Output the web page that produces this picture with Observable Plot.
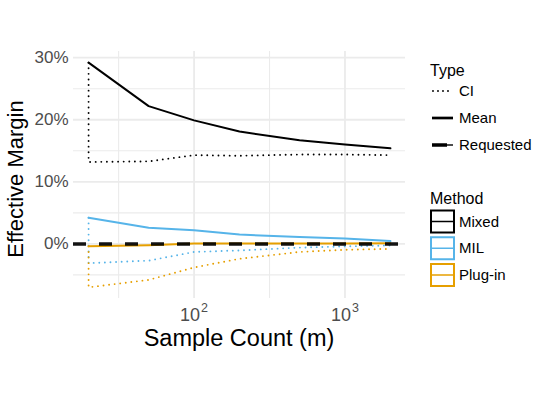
<!DOCTYPE html>
<html><head><meta charset="utf-8">
<script src="https://cdn.jsdelivr.net/npm/d3@7"></script>
<script src="https://cdn.jsdelivr.net/npm/@observablehq/plot@0.6"></script>
<style>body{margin:0;background:#fff;} svg{display:block}</style>
</head><body><div id="chart"></div>
<script>
// ---- data ----
const sampleCount = [20, 50, 100, 200, 500, 1000, 2000];
const mixedMean = [29.2, 22.2, 19.9, 18.1, 16.7, 16.0, 15.4];
const mixedCI   = [13.2, 13.3, 14.3, 14.2, 14.4, 14.4, 14.3];
const milMean   = [4.2, 2.6, 2.2, 1.5, 1.1, 0.85, 0.45];
const milCI     = [-3.1, -2.7, -1.3, -1.05, -0.6, -0.4, -0.25];
const plugMean  = [-0.4, -0.2, 0.05, 0.05, 0.05, 0.05, 0.1];
const plugCI    = [-7.0, -5.8, -3.8, -2.4, -1.3, -0.95, -0.8];
const requested = [0];

const methods = ["Mixed", "MIL", "Plug-in"];
const methodColors = ["#000000", "#56B4E9", "#E69F00"];
const types = ["CI", "Mean", "Requested"];

const yTicks = [0, 10, 20, 30];
const yMinor = [-5, 5, 15, 25];
const xTicks = [100, 1000];
const xMinor = [31.62, 316.2];
const xExponents = ["2", "3"];

const meanSeries = [mixedMean, milMean, plugMean];
const ciSeries = [mixedCI, milCI, plugCI];

const meanRows = [];
const ciRows = [];
methods.forEach((method, k) => {
  sampleCount.forEach((m, i) => meanRows.push({method, m, v: meanSeries[k][i]}));
  // CI path starts at the mean of the first sample count
  ciRows.push({method, m: sampleCount[0], v: meanSeries[k][0]});
  sampleCount.forEach((m, i) => ciRows.push({method, m, v: ciSeries[k][i]}));
});

const grid = "#EBEBEB";
const font = "'Liberation Sans', Arial, Helvetica, sans-serif";
const dotted = "0,5.6";

const svg = Plot.plot({
  width: 540,
  height: 405,
  marginLeft: 73,
  marginRight: 135,
  marginTop: 51,
  marginBottom: 107,
  style: {fontFamily: font, background: "white", overflow: "visible"},
  x: {type: "log", domain: [10 ** 1.201, 10 ** 3.401]},
  y: {domain: [-8.8, 31.0]},
  color: {domain: methods, range: methodColors},
  marks: [
    Plot.ruleY(yMinor, {stroke: grid, strokeWidth: 1.1}),
    Plot.ruleX(xMinor, {stroke: grid, strokeWidth: 1.1}),
    Plot.ruleY(yTicks, {stroke: grid, strokeWidth: 1.8}),
    Plot.ruleX(xTicks, {stroke: grid, strokeWidth: 1.8}),
    Plot.line(ciRows, {x: "m", y: "v", z: "method", stroke: "method", strokeWidth: 1.9, strokeDasharray: dotted, strokeLinecap: "round"}),
    Plot.line(meanRows, {x: "m", y: "v", z: "method", stroke: "method", strokeWidth: 2}),
    Plot.ruleY(requested, {stroke: "black", strokeWidth: 3.5, strokeDasharray: "13,13", strokeOpacity: 0.92}),
    Plot.axisY(yTicks, {tickSize: 0, tickPadding: 5, tickFormat: d => d + "%", fontSize: 17, fill: "#4D4D4D", label: null}),
    Plot.axisX(xTicks, {tickSize: 0, tickPadding: 10, tickFormat: d => "10^" + xExponents[xTicks.indexOf(d)], fontSize: 18, fill: "#4D4D4D", label: null})
  ]
});

document.getElementById("chart").appendChild(svg);
const s = d3.select(svg);

// superscripts for the log tick labels
s.selectAll("g[aria-label='x-axis tick label'] text").each(function() {
  const t = d3.select(this);
  const [base, exp] = t.text().split("^");
  t.text(null);
  t.append("tspan").text(base);
  t.append("tspan").attr("font-size", 12.5).attr("dx", 1).attr("dy", "-0.75em").text(exp);
});

// axis titles
s.append("text").attr("x", 239).attr("y", 346).attr("text-anchor", "middle")
  .attr("font-size", 23.5).attr("fill", "black").text("Sample Count (m)");
s.append("text").attr("transform", "translate(23,179) rotate(-90)").attr("text-anchor", "middle")
  .attr("font-size", 22).attr("fill", "black").text("Effective Margin");

// legend: Type
const lg = s.append("g").attr("font-size", 15).attr("text-anchor", "start").attr("fill", "black");
lg.append("text").attr("x", 430).attr("y", 76).attr("font-size", 16).text("Type");
types.forEach((t, i) => {
  const y = 91 + i * 27;
  if (t === "CI") {
    lg.append("line").attr("x1", 433).attr("x2", 453).attr("y1", y).attr("y2", y)
      .attr("stroke", "black").attr("stroke-width", 1.9).attr("stroke-dasharray", "0,5")
      .attr("stroke-linecap", "round");
  } else if (t === "Mean") {
    lg.append("line").attr("x1", 432).attr("x2", 453).attr("y1", y).attr("y2", y)
      .attr("stroke", "black").attr("stroke-width", 2.7);
  } else {
    lg.append("line").attr("x1", 432).attr("x2", 453).attr("y1", y).attr("y2", y)
      .attr("stroke", "black").attr("stroke-width", 1.4);
    lg.append("line").attr("x1", 432).attr("x2", 447).attr("y1", y).attr("y2", y)
      .attr("stroke", "black").attr("stroke-width", 3.5);
  }
  lg.append("text").attr("x", 459).attr("y", y + 5).text(t);
});

// legend: Method
lg.append("text").attr("x", 430).attr("y", 204).attr("font-size", 16).text("Method");
methods.forEach((m, i) => {
  const yc = 221.5 + i * 26.75;
  lg.append("rect").attr("x", 431).attr("y", yc - 11).attr("width", 23).attr("height", 22)
    .attr("fill", "white").attr("stroke", methodColors[i]).attr("stroke-width", 2);
  lg.append("line").attr("x1", 432).attr("x2", 453).attr("y1", yc).attr("y2", yc)
    .attr("stroke", methodColors[i]).attr("stroke-width", 1.5);
  lg.append("text").attr("x", 459).attr("y", yc + 5).text(m);
});
</script>
</body></html>
